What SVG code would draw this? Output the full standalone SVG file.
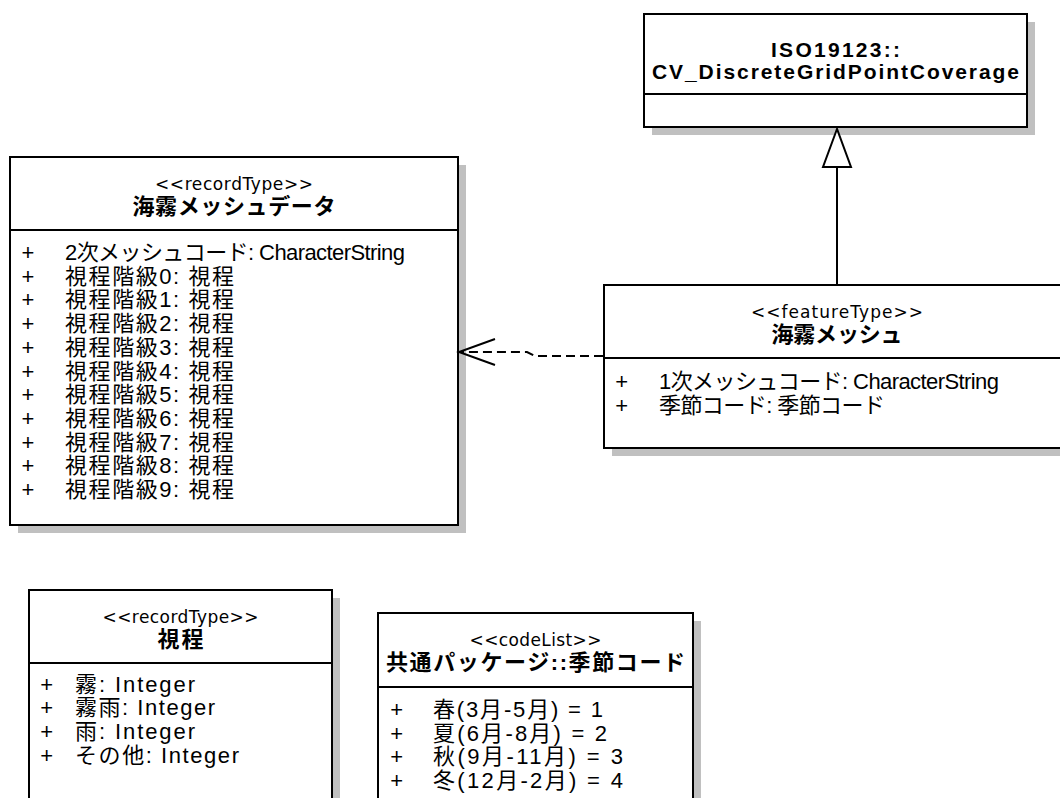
<svg xmlns="http://www.w3.org/2000/svg" width="1060" height="798" viewBox="0 0 1060 798">
<style>
.shadow{fill:#c0c0c0;stroke:none}
.box{fill:#fff;stroke:#000;stroke-width:2}
.div{stroke:#000;stroke-width:2;fill:none}
.st{font-family:"DejaVu Sans","Noto Sans CJK JP",sans-serif;font-size:17px;text-anchor:middle;fill:#000}
.tt{font-family:"Liberation Sans","Noto Sans CJK JP",sans-serif;font-weight:bold;font-size:22px;text-anchor:middle;fill:#000}
.iso{font-family:"Liberation Sans",sans-serif;font-weight:bold;font-size:21px;text-anchor:middle;fill:#000}
.at{font-family:"Liberation Sans","Noto Sans CJK JP",sans-serif;font-size:22px;fill:#000}
.ln{stroke:#000;stroke-width:2;fill:none}
</style>
<rect width="1060" height="798" fill="#fff"/>

<g id="node-iso">
<rect class="shadow" x="652" y="22" width="383" height="113"/>
<rect class="box" x="644" y="14" width="383" height="113"/>
<line class="div" x1="644" y1="94" x2="1027" y2="94"/>
<text class="iso" x="835.5" y="57" textLength="129">ISO19123::</text>
<text class="iso" x="835.5" y="79" textLength="367">CV_DiscreteGridPointCoverage</text>
</g>

<g id="node-kaimu-mesh-data">
<rect class="shadow" x="18" y="165" width="448" height="368"/>
<rect class="box" x="10" y="157" width="448" height="368"/>
<line class="div" x1="10" y1="230" x2="458" y2="230"/>
<text class="st" x="234" y="190" textLength="158">&lt;&lt;recordType&gt;&gt;</text>
<text class="tt" x="234" y="214" textLength="203">海霧メッシュデータ</text>
<text class="at" x="21.5" y="260">+</text><text class="at" x="65" y="260" textLength="340">2次メッシュコード: CharacterString</text>
<text class="at" x="21.5" y="283.7">+</text><text class="at" x="65" y="283.7" textLength="169">視程階級0: 視程</text>
<text class="at" x="21.5" y="307.4">+</text><text class="at" x="65" y="307.4" textLength="169">視程階級1: 視程</text>
<text class="at" x="21.5" y="331.1">+</text><text class="at" x="65" y="331.1" textLength="169">視程階級2: 視程</text>
<text class="at" x="21.5" y="354.8">+</text><text class="at" x="65" y="354.8" textLength="169">視程階級3: 視程</text>
<text class="at" x="21.5" y="378.5">+</text><text class="at" x="65" y="378.5" textLength="169">視程階級4: 視程</text>
<text class="at" x="21.5" y="402.2">+</text><text class="at" x="65" y="402.2" textLength="169">視程階級5: 視程</text>
<text class="at" x="21.5" y="425.9">+</text><text class="at" x="65" y="425.9" textLength="169">視程階級6: 視程</text>
<text class="at" x="21.5" y="449.6">+</text><text class="at" x="65" y="449.6" textLength="169">視程階級7: 視程</text>
<text class="at" x="21.5" y="473.3">+</text><text class="at" x="65" y="473.3" textLength="169">視程階級8: 視程</text>
<text class="at" x="21.5" y="497">+</text><text class="at" x="65" y="497" textLength="169">視程階級9: 視程</text>
</g>

<g id="node-kaimu-mesh">
<rect class="shadow" x="612" y="293" width="466" height="163"/>
<rect class="box" x="604" y="285" width="466" height="163"/>
<line class="div" x1="604" y1="358" x2="1070" y2="358"/>
<text class="st" x="837" y="318" textLength="172">&lt;&lt;featureType&gt;&gt;</text>
<text class="tt" x="837" y="342" textLength="131">海霧メッシュ</text>
<text class="at" x="615.3" y="389">+</text><text class="at" x="659" y="389" textLength="340">1次メッシュコード: CharacterString</text>
<text class="at" x="615.3" y="413">+</text><text class="at" x="659" y="413" textLength="226">季節コード: 季節コード</text>
</g>

<g id="node-shitei">
<rect class="shadow" x="37" y="598" width="303" height="230"/>
<rect class="box" x="29" y="590" width="303" height="230"/>
<line class="div" x1="29" y1="663" x2="332" y2="663"/>
<text class="st" x="180.5" y="623" textLength="156">&lt;&lt;recordType&gt;&gt;</text>
<text class="tt" x="180.5" y="647" textLength="46">視程</text>
<text class="at" x="40.3" y="691.5">+</text><text class="at" x="75" y="691.5" textLength="120">霧: Integer</text>
<text class="at" x="40.3" y="715.2">+</text><text class="at" x="75" y="715.2" textLength="140">霧雨: Integer</text>
<text class="at" x="40.3" y="738.9">+</text><text class="at" x="75" y="738.9" textLength="120">雨: Integer</text>
<text class="at" x="40.3" y="762.6">+</text><text class="at" x="75" y="762.6" textLength="164">その他: Integer</text>
</g>

<g id="node-kisetsu-code">
<rect class="shadow" x="386" y="621" width="315" height="210"/>
<rect class="box" x="378" y="613" width="315" height="210"/>
<line class="div" x1="378" y1="687" x2="693" y2="687"/>
<text class="st" x="535.5" y="646" textLength="132">&lt;&lt;codeList&gt;&gt;</text>
<text class="tt" x="535.5" y="670" textLength="299">共通パッケージ::季節コード</text>
<text class="at" x="390.3" y="717">+</text><text class="at" x="433" y="717" textLength="170">春(3月-5月) = 1</text>
<text class="at" x="390.3" y="740.5">+</text><text class="at" x="433" y="740.5" textLength="174">夏(6月-8月) = 2</text>
<text class="at" x="390.3" y="764">+</text><text class="at" x="433" y="764" textLength="190">秋(9月-11月) = 3</text>
<text class="at" x="390.3" y="787.5">+</text><text class="at" x="433" y="787.5" textLength="190">冬(12月-2月) = 4</text>
</g>

<g id="connectors">
<line class="ln" x1="837" y1="167" x2="837" y2="285"/>
<polygon class="ln" points="837,129 823,167 851,167" style="fill:#fff"/>
<polyline class="ln" points="603,356 535,356 527,352 460,352" stroke-dasharray="9,5"/>
<polyline class="ln" points="495,339 459,352 495,365"/>
</g>
</svg>
